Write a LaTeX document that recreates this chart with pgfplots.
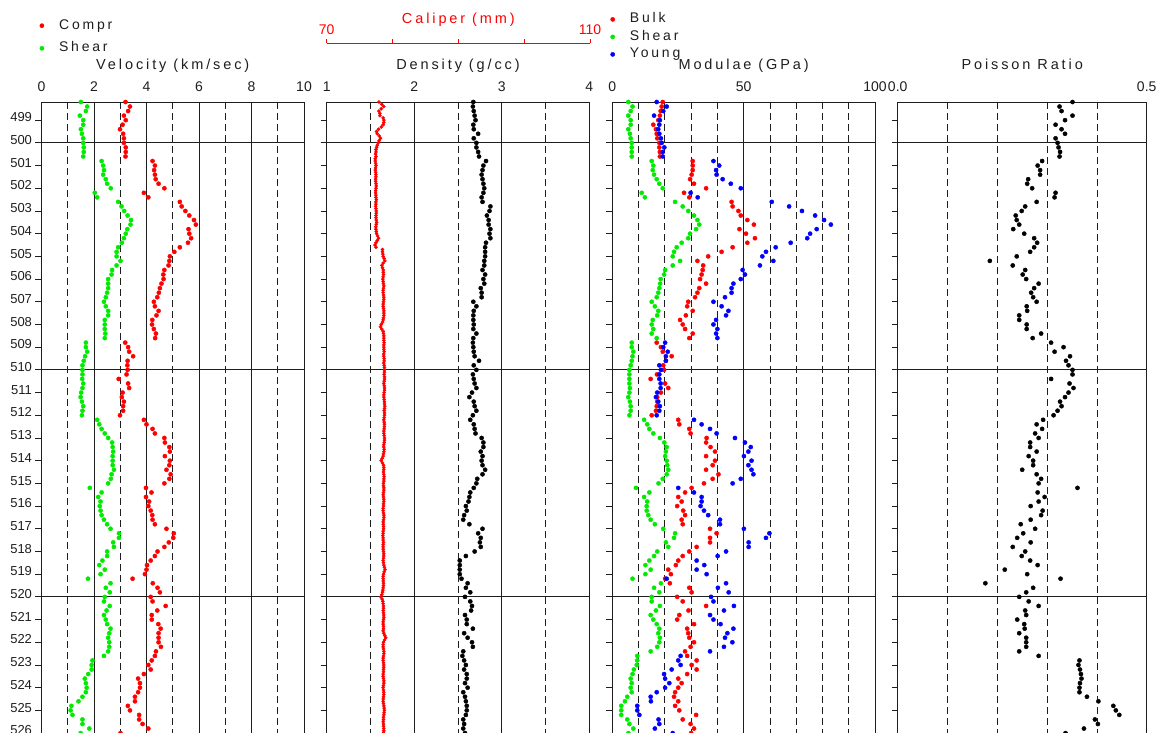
\documentclass[border=0pt]{standalone}
\usepackage{fontspec}
\setmainfont{Liberation Sans}
\newfontfamily\spaced[LetterSpace=20]{Liberation Sans}
\usepackage{pgfplots}
\usepackage{pgfplotstable}
\pgfplotsset{compat=1.18}
\definecolor{cred}{RGB}{255,0,0}
\definecolor{cgreen}{RGB}{0,235,0}
\definecolor{cblue}{RGB}{0,0,255}
\definecolor{ink}{RGB}{30,30,30}

\pgfplotstableread{
d vp vs rho K G E nu
498.2 3.20 1.50 2.675 19.2 6.1 16.9 0.351
498.4 3.37 1.74 2.67 18.8 7.7 20.7 0.325
498.6 3.30 1.69 2.68 18.4 7.0 19.4 0.329
498.8 3.14 1.46 2.69 18.1 6.1 15.9 0.351
499.0 3.21 1.59 2.70 17.5 7.0 18.1 0.336
499.2 3.09 1.59 2.675 15.6 7.0 17.9 0.317
499.4 2.99 1.50 2.68 16.6 6.1 17.5 0.329
499.6 3.11 1.54 2.73 16.9 6.7 17.9 0.336
499.8 3.14 1.59 2.68 17.1 7.0 18.5 0.317
500.0 3.14 1.59 2.71 17.9 7.4 18.8 0.321
500.2 3.21 1.61 2.71 17.9 7.4 19.8 0.323
500.4 3.21 1.61 2.73 18.1 7.4 19.2 0.326
500.6 3.20 1.59 2.74 18.1 7.4 19.2 0.325
500.8 4.23 2.29 2.82 30.6 15.0 38.5 0.290
501.0 4.32 2.35 2.79 30.6 15.6 40.7 0.281
501.2 4.29 2.38 2.78 30.6 15.4 39.5 0.286
501.4 4.32 2.35 2.77 30.2 15.9 39.7 0.286
501.6 4.35 2.45 2.78 29.6 16.9 42.0 0.262
501.8 4.46 2.50 2.79 31.1 17.9 45.1 0.260
502.0 4.68 2.64 2.80 35.7 19.2 48.9 0.270
502.2 3.90 2.03 2.79 27.3 11.2 29.8 0.317
502.4 4.07 2.12 2.77 29.3 12.4 32.5 0.315
502.6 5.27 2.92 2.78 45.4 23.9 60.7 0.279
502.8 5.34 3.05 2.87 45.8 26.8 67.3 0.256
503.0 5.48 3.15 2.86 48.0 28.9 72.2 0.249
503.2 5.63 3.28 2.83 48.9 31.1 77.2 0.237
503.4 5.81 3.41 2.85 51.4 32.4 80.6 0.239
503.6 5.88 3.39 2.85 53.9 33.1 83.2 0.244
503.8 5.60 3.27 2.87 48.4 31.9 77.8 0.232
504.0 5.63 3.21 2.86 50.9 29.6 75.3 0.254
504.2 5.70 3.14 2.87 54.3 28.9 74.2 0.274
504.4 5.58 3.06 2.82 51.4 26.4 67.9 0.280
504.6 5.27 2.92 2.81 45.8 24.5 62.2 0.274
504.8 5.06 2.86 2.81 41.6 23.5 58.5 0.266
505.0 4.89 2.86 2.81 36.5 23.0 57.1 0.239
505.2 4.87 3.01 2.80 32.4 25.8 61.3 0.185
505.4 4.84 2.86 2.80 34.6 23.0 56.2 0.231
505.6 4.68 2.69 2.78 34.4 20.1 49.6 0.256
505.8 4.64 2.67 2.81 34.0 19.7 50.5 0.251
506.0 4.65 2.54 2.79 33.4 18.4 48.9 0.258
506.2 4.57 2.54 2.80 35.7 18.2 46.1 0.283
506.4 4.51 2.54 2.76 33.1 17.9 45.4 0.274
506.6 4.47 2.50 2.77 32.4 17.5 45.4 0.268
506.8 4.41 2.45 2.77 31.5 16.9 42.9 0.272
507.0 4.28 2.38 2.675 28.9 15.0 38.5 0.279
507.2 4.32 2.45 2.71 28.5 16.2 41.6 0.259
507.4 4.46 2.54 2.68 30.6 17.5 44.2 0.260
507.6 4.38 2.54 2.675 28.0 17.1 43.3 0.244
507.8 4.22 2.41 2.675 25.8 15.4 39.5 0.244
508.0 4.21 2.41 2.68 26.8 15.0 38.5 0.259
508.2 4.28 2.41 2.675 27.7 15.6 40.0 0.259
508.4 4.36 2.43 2.71 30.6 15.0 39.5 0.288
508.6 4.33 2.41 2.675 29.3 16.9 40.0 0.271
508.8 3.19 1.69 2.67 16.9 7.4 20.1 0.308
509.0 3.30 1.69 2.675 18.5 7.4 19.4 0.333
509.2 3.34 1.74 2.68 19.2 8.0 21.1 0.315
509.4 3.49 1.66 2.69 22.6 7.7 20.4 0.346
509.6 3.28 1.61 2.74 20.4 7.4 20.4 0.338
509.8 3.27 1.56 2.68 19.4 7.0 17.9 0.343
510.0 3.28 1.56 2.71 19.7 6.5 18.5 0.351
510.2 3.24 1.56 2.67 17.0 6.5 17.9 0.351
510.4 2.94 1.55 2.68 14.6 6.5 17.9 0.308
510.6 3.30 1.59 2.69 20.1 6.5 18.4 0.345
510.8 3.34 1.56 2.71 21.3 6.7 18.4 0.353
511.0 3.09 1.51 2.66 18.5 6.5 17.1 0.343
511.2 3.06 1.49 2.63 17.1 6.1 16.6 0.336
511.4 3.14 1.54 2.68 17.1 6.7 17.5 0.326
511.6 3.11 1.59 2.69 16.9 7.0 18.1 0.329
511.8 3.11 1.56 2.71 16.6 7.0 17.9 0.321
512.0 2.99 1.54 2.67 15.0 6.5 16.9 0.313
512.2 3.90 2.12 2.64 25.1 12.1 31.1 0.292
512.4 4.00 2.20 2.68 25.5 13.3 34.0 0.279
512.6 4.23 2.29 2.69 29.3 14.1 37.2 0.290
512.8 4.32 2.41 2.70 29.8 15.6 39.7 0.276
513.0 4.68 2.54 2.77 35.9 18.1 46.7 0.283
513.2 4.70 2.69 2.79 35.7 19.8 50.5 0.266
513.4 4.87 2.71 2.79 37.4 20.7 52.7 0.266
513.6 4.89 2.73 2.76 39.1 20.4 51.8 0.279
513.8 4.70 2.71 2.78 35.7 20.1 50.1 0.263
514.0 4.89 2.71 2.77 39.1 20.7 53.0 0.272
514.2 4.87 2.71 2.78 38.2 20.9 51.8 0.272
514.4 4.76 2.76 2.81 35.7 21.3 53.0 0.250
514.6 4.92 2.67 2.78 40.4 20.7 53.7 0.279
514.8 4.87 2.64 2.72 38.2 19.2 48.9 0.288
515.0 4.68 2.54 2.71 34.9 17.6 45.8 0.283
515.2 3.98 1.84 2.68 30.2 9.0 25.1 0.361
515.4 4.19 2.29 2.64 27.7 14.1 31.1 0.281
515.6 3.98 2.16 2.63 25.1 12.1 34.0 0.295
515.8 4.10 2.25 2.62 26.4 13.3 34.0 0.283
516.0 4.07 2.22 2.59 24.7 13.1 33.6 0.267
516.2 4.16 2.25 2.60 27.0 13.1 34.9 0.291
516.4 4.22 2.29 2.57 27.7 13.7 36.5 0.288
516.6 4.23 2.38 2.56 26.4 14.6 41.0 0.267
516.8 4.32 2.50 2.63 26.8 16.2 41.0 0.247
517.0 4.76 2.63 2.78 37.2 19.4 50.1 0.276
517.2 5.04 2.95 2.73 39.7 23.9 59.8 0.252
517.4 5.02 2.95 2.76 37.2 23.5 58.5 0.240
517.6 4.85 2.73 2.75 37.2 20.4 51.9 0.267
517.8 4.68 2.76 2.76 32.1 21.3 51.9 0.231
518.0 4.42 2.50 2.69 29.3 17.1 43.3 0.256
518.2 4.32 2.50 2.59 26.8 15.9 40.1 0.249
518.4 4.16 2.32 2.52 25.1 14.1 32.1 0.266
518.6 4.02 2.20 2.52 24.2 12.6 35.0 0.281
518.8 4.00 2.41 2.52 21.3 14.6 32.1 0.215
519.0 3.94 2.25 2.52 22.3 12.6 35.9 0.260
519.2 3.47 1.77 2.54 20.1 7.7 20.7 0.327
519.4 4.24 2.63 2.61 21.9 18.5 43.3 0.176
519.6 4.42 2.45 2.59 29.3 15.9 40.2 0.272
519.8 4.51 2.60 2.64 30.2 17.9 44.3 0.258
520.0 4.16 2.41 2.58 24.7 15.0 37.6 0.244
520.2 4.23 2.38 2.64 26.8 15.0 38.5 0.263
520.4 4.73 2.60 2.66 35.7 18.1 46.3 0.283
520.6 4.41 2.48 2.65 29.0 16.6 42.5 0.256
520.8 4.20 2.38 2.58 25.5 14.6 37.2 0.258
521.0 4.20 2.45 2.60 24.7 15.6 38.5 0.240
521.2 4.45 2.50 2.60 31.1 16.9 41.2 0.254
521.4 4.54 2.63 2.67 28.5 17.9 46.1 0.255
521.6 4.46 2.58 2.57 28.9 17.5 43.8 0.244
521.8 4.46 2.54 2.61 29.3 18.1 42.9 0.258
522.0 4.46 2.58 2.66 31.1 17.9 45.7 0.258
522.2 4.55 2.58 2.67 29.8 17.1 42.5 0.258
522.4 4.36 2.54 2.56 27.7 14.6 37.2 0.244
522.6 4.32 2.38 2.55 28.5 9.5 26.0 0.283
522.8 4.20 1.94 2.57 32.1 9.5 25.1 0.365
523.0 4.07 1.91 2.59 30.2 9.3 26.0 0.363
523.2 4.16 1.91 2.57 32.1 8.2 22.6 0.366
523.4 3.90 1.78 2.60 28.5 7.7 19.7 0.368
523.6 3.68 1.65 2.60 25.1 7.0 20.1 0.369
523.8 3.75 1.69 2.58 26.4 7.4 21.7 0.366
524.0 3.75 1.72 2.61 25.1 7.0 20.1 0.365
524.2 3.68 1.69 2.56 23.9 7.4 16.9 0.365
524.4 3.56 1.56 2.58 23.5 5.7 14.6 0.380
524.6 3.56 1.41 2.59 25.1 4.8 14.7 0.403
524.8 3.29 1.14 2.60 23.9 3.4 9.5 0.433
525.0 3.37 1.11 2.60 25.5 3.4 9.5 0.438
525.2 3.72 1.18 2.59 31.9 3.4 10.3 0.445
525.4 3.72 1.56 2.56 26.8 5.7 17.6 0.396
525.6 3.85 1.56 2.57 29.8 6.5 17.9 0.402
525.8 4.07 1.82 2.56 31.1 8.0 16.2 0.374
526.0 3.01 1.49 2.58 30.0 6.1 23.0 0.337
}\logdata

\pgfplotstableread{
d cal
498.2 77.95
498.3 78.4
498.4 78.7
498.5 78.3
498.6 77.95
498.7 78.1
498.8 78.1
498.9 78.6
499.0 78.7
499.1 78.7
499.2 78.6
499.3 78.3
499.4 77.9
499.5 77.6
499.6 77.7
499.7 78.0
499.8 78.2
499.9 78.0
500.0 77.85
500.1 77.7
500.2 77.6
500.3 77.5
500.4 77.5
500.5 77.45
500.6 77.5
500.7 77.4
500.8 77.4
500.9 77.45
501.0 77.5
501.1 77.45
501.2 77.4
501.3 77.45
501.4 77.5
501.5 77.5
501.6 77.45
501.7 77.45
501.8 77.5
501.9 77.55
502.0 77.5
502.1 77.45
502.2 77.45
502.3 77.5
502.4 77.5
502.5 77.55
502.6 77.5
502.7 77.5
502.8 77.45
502.9 77.5
503.0 77.55
503.1 77.55
503.2 77.5
503.3 77.5
503.4 77.55
503.5 77.6
503.6 77.55
503.7 77.5
503.8 77.5
503.9 77.55
504.0 77.6
504.1 77.75
504.2 77.9
504.3 77.7
504.4 77.5
504.5 77.35
504.6 77.5
504.7 78.5
504.8 78.5
504.9 78.55
505.0 78.6
505.1 78.75
505.2 78.85
505.3 78.6
505.4 78.4
505.5 78.5
505.6 78.6
505.7 78.6
505.8 78.65
505.9 78.6
506.0 78.55
506.1 78.6
506.2 78.65
506.3 78.7
506.4 78.65
506.5 78.6
506.6 78.6
506.7 78.65
506.8 78.7
506.9 78.7
507.0 78.65
507.1 78.6
507.2 78.6
507.3 78.65
507.4 78.7
507.5 78.7
507.6 78.7
507.7 78.65
507.8 78.6
507.9 78.5
508.0 78.3
508.1 78.2
508.2 78.4
508.3 78.6
508.4 78.65
508.5 78.7
508.6 78.7
508.7 78.7
508.8 78.75
508.9 78.7
509.0 78.7
509.1 78.7
509.2 78.75
509.3 78.7
509.4 78.7
509.5 78.75
509.6 78.75
509.7 78.7
509.8 78.75
509.9 78.8
510.0 78.8
510.1 78.8
510.2 78.75
510.3 78.8
510.4 78.8
510.5 78.75
510.6 78.7
510.7 78.75
510.8 78.8
510.9 78.8
511.0 78.75
511.1 78.7
511.2 78.7
511.3 78.75
511.4 78.8
511.5 78.8
511.6 78.85
511.7 78.8
511.8 78.75
511.9 78.8
512.0 78.8
512.1 78.75
512.2 78.7
512.3 78.75
512.4 78.8
512.5 78.8
512.6 78.75
512.7 78.7
512.8 78.7
512.9 78.75
513.0 78.8
513.1 78.8
513.2 78.75
513.3 78.7
513.4 78.7
513.5 78.75
513.6 78.7
513.7 78.65
513.8 78.6
513.9 78.45
514.0 78.3
514.1 78.5
514.2 78.65
514.3 78.7
514.4 78.7
514.5 78.65
514.6 78.7
514.7 78.75
514.8 78.7
514.9 78.7
515.0 78.65
515.1 78.65
515.2 78.7
515.3 78.7
515.4 78.65
515.5 78.6
515.6 78.65
515.7 78.7
515.8 78.7
515.9 78.65
516.0 78.65
516.1 78.6
516.2 78.6
516.3 78.65
516.4 78.7
516.5 78.7
516.6 78.65
516.7 78.6
516.8 78.6
516.9 78.65
517.0 78.65
517.1 78.6
517.2 78.6
517.3 78.55
517.4 78.6
517.5 78.6
517.6 78.65
517.7 78.6
517.8 78.6
517.9 78.6
518.0 78.65
518.1 78.7
518.2 78.7
518.3 78.65
518.4 78.6
518.5 78.65
518.6 78.7
518.7 78.8
518.8 78.9
518.9 78.75
519.0 78.65
519.1 78.6
519.2 78.6
519.3 78.6
519.4 78.65
519.5 78.65
519.6 78.6
519.7 78.55
519.8 78.5
519.9 78.4
520.0 78.25
520.1 78.45
520.2 78.55
520.3 78.6
520.4 78.65
520.5 78.65
520.6 78.6
520.7 78.65
520.8 78.7
520.9 78.7
521.0 78.65
521.1 78.6
521.2 78.6
521.3 78.65
521.4 78.65
521.5 78.6
521.6 78.7
521.7 78.85
521.8 79.0
521.9 78.8
522.0 78.65
522.1 78.6
522.2 78.6
522.3 78.65
522.4 78.7
522.5 78.7
522.6 78.65
522.7 78.6
522.8 78.6
522.9 78.65
523.0 78.7
523.1 78.7
523.2 78.65
523.3 78.65
523.4 78.6
523.5 78.6
523.6 78.65
523.7 78.7
523.8 78.7
523.9 78.65
524.0 78.6
524.1 78.65
524.2 78.7
524.3 78.7
524.4 78.65
524.5 78.6
524.6 78.6
524.7 78.65
524.8 78.7
524.9 78.75
525.0 78.8
525.1 78.75
525.2 78.7
525.3 78.65
525.4 78.65
525.5 78.6
525.6 78.65
525.7 78.65
525.8 78.7
525.9 78.7
526.0 78.65
}\caldata

\pgfplotsset{
  logpanel/.style={
    scale only axis,
    height=632.2pt,
    y dir=reverse,
    ymin=498.2, ymax=526.05,
    axis x line*=top,
    axis y line*=box,
    axis line style={ink, line width=0.9pt, -},
    xticklabel pos=upper,
    xtick pos=upper,
    major tick length=6pt,
    minor tick length=0pt,
    tick align=outside,
    xtick style={draw=none},
    ytick={499,...,526},
    ytick pos=left,
    ytick style={ink, line width=0.8pt},
    xmajorgrids,
    xminorgrids,
    major grid style={ink, line width=0.9pt},
    minor grid style={ink, line width=0.8pt, dash pattern=on 7pt off 4pt},
    extra y ticks={500,510,520},
    extra y tick labels={},
    extra y tick style={grid=major},
    clip=false,
    every axis title/.style={at={(0.5,1)}, anchor=base, yshift=33pt,
      font=\spaced\fontsize{14.5}{17}\selectfont, text=ink},
    xticklabel style={font=\fontsize{14}{16}\selectfont, text=ink, anchor=base, yshift=4.3pt},
    yticklabel style={font=\fontsize{13}{15}\selectfont, text=ink, anchor=base east, yshift=-1.7pt},
    /pgf/number format/assume math mode=true,
    every axis plot/.append style={only marks, mark=*, mark size=2.1pt},
    legend image code/.code={\draw[#1] plot coordinates {(0pt,0pt)}; \path (-4pt,0pt) (17pt,0pt);},
    legend cell align=left,
  }
}

\begin{document}
\begin{tikzpicture}
% ---------- Velocity ----------
\begin{axis}[logpanel, at={(41.5pt,-102pt)}, anchor=north west, width=262.5pt,
  xmin=0, xmax=10, xtick={0,2,4,6,8,10}, xticklabels={0,2,4,6,8,10},
  minor xtick={1,3,5,7,9},
  title={Velocity (km/sec)},
  legend style={at={(0,1)}, anchor=north west, xshift=-4pt, yshift=83pt,
    draw=none, fill=none, inner sep=0pt, column sep=0pt, row sep=9.6pt,
    font=\spaced\fontsize{14}{16}\selectfont,
    nodes={inner sep=0pt, text height=10pt, text depth=3pt, text=ink}}]
\addplot[color=cred] table[x=vp, y=d] {\logdata};
\addlegendentry{Compr}
\addplot[color=cgreen] table[x=vs, y=d] {\logdata};
\addlegendentry{Shear}
\end{axis}

% ---------- Density ----------
\begin{axis}[logpanel, at={(326.7pt,-102pt)}, anchor=north west, width=262.6pt,
  xmin=1, xmax=4, xtick={1,2,3,4}, xticklabels={1,2,3,4},
  minor xtick={1.5,2.5,3.5}, yticklabels={},
  title={Density (g/cc)}]
\addplot[color=black] table[x=rho, y=d] {\logdata};
\end{axis}

% caliper data (mm) on the density track
\begin{axis}[at={(326.7pt,-102pt)}, anchor=north west, scale only axis,
  width=262.6pt, height=632.2pt, xmin=70, xmax=110,
  ymin=498.2, ymax=526.05, y dir=reverse, hide axis, clip=false]
\addplot[only marks, mark=*, mark size=1.6pt, color=cred] table[x=cal, y=d] {\caldata};
\end{axis}

% caliper scale
\begin{axis}[at={(326.7pt,-43.3pt)}, anchor=north west, scale only axis,
  width=263.3pt, height=2pt, xmin=70, xmax=110, ymin=0, ymax=1,
  axis x line*=top, axis y line=none,
  axis line style={cred, line width=0.9pt, -},
  xtick={70,80,90,100,110}, xticklabels={70,,,,110},
  xtick pos=upper, xticklabel pos=upper, tick align=outside, major tick length=4pt,
  xtick style={cred, line width=0.9pt}, ytick=\empty,
  xticklabel style={font=\fontsize{14}{16}\selectfont, text=cred, anchor=base, yshift=4.3pt},
  title={Caliper (mm)},
  every axis title/.style={at={(0.5,1)}, anchor=base, yshift=20pt,
      font=\spaced\fontsize{14.5}{17}\selectfont, text=cred}]
\end{axis}

% ---------- Modulae ----------
\begin{axis}[logpanel, at={(612.3pt,-102pt)}, anchor=north west, width=262.7pt,
  xmin=0, xmax=100, xtick={0,50,100}, xticklabels={0,50,100},
  minor xtick={10,20,30,40,60,70,80,90}, yticklabels={},
  title={Modulae (GPa)},
  legend style={at={(0,1)}, anchor=north west, xshift=-4pt, yshift=89.3pt,
    draw=none, fill=none, inner sep=0pt, column sep=0pt, row sep=4.5pt,
    font=\spaced\fontsize{14}{16}\selectfont,
    nodes={inner sep=0pt, text height=10pt, text depth=3pt, text=ink}}]
\addplot[color=cred] table[x=K, y=d] {\logdata};
\addlegendentry{Bulk}
\addplot[color=cgreen] table[x=G, y=d] {\logdata};
\addlegendentry{Shear}
\addplot[color=cblue] table[x=E, y=d] {\logdata};
\addlegendentry{Young}
\end{axis}

% ---------- Poisson ----------
\begin{axis}[logpanel, at={(897.7pt,-102pt)}, anchor=north west, width=249pt,
  xmin=0, xmax=0.5, xtick={0,0.5}, xticklabels={0.0,0.5},
  minor xtick={0.1,0.2,0.3,0.4}, yticklabels={},
  title={Poisson Ratio}]
\addplot[color=black] table[x=nu, y=d] {\logdata};
\end{axis}

\pgfresetboundingbox
\useasboundingbox (0pt,0pt) rectangle (1173pt,-733pt);
\end{tikzpicture}
\end{document}
